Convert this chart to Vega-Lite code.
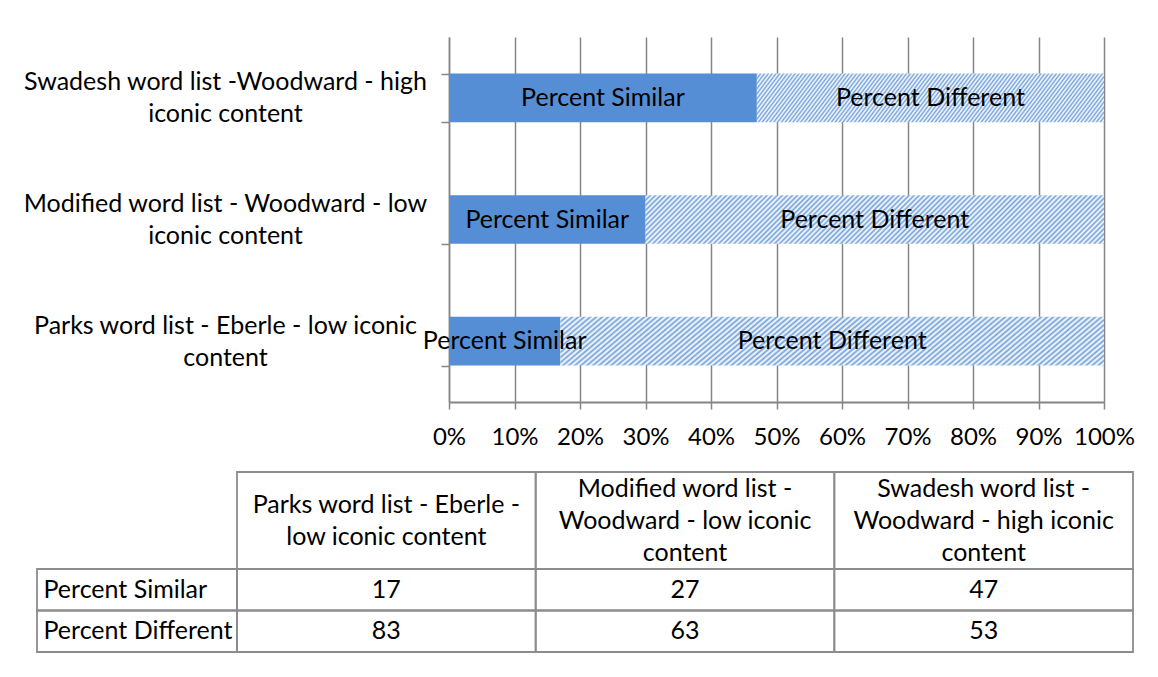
{
  "$schema": "https://vega.github.io/schema/vega-lite/v6.json",
  "background": "white",
  "padding": {"left": 22, "top": 25, "right": 5, "bottom": 5},
  "bounds": "flush",
  "spacing": 70,
  "config": {
    "font": "Lato",
    "view": {"stroke": null},
    "axis": {"labelFont": "Lato", "labelColor": "#000000"},
    "text": {"font": "Lato", "color": "#000000"}
  },
  "datasets": {
    "results": [
      {"list": "Parks word list - Eberle - low iconic content", "measure": "Percent Similar", "value": 17},
      {"list": "Parks word list - Eberle - low iconic content", "measure": "Percent Different", "value": 83},
      {"list": "Modified word list - Woodward - low iconic content", "measure": "Percent Similar", "value": 27},
      {"list": "Modified word list - Woodward - low iconic content", "measure": "Percent Different", "value": 63},
      {"list": "Swadesh word list -Woodward - high iconic content", "measure": "Percent Similar", "value": 47},
      {"list": "Swadesh word list -Woodward - high iconic content", "measure": "Percent Different", "value": 53}
    ]
  },
  "vconcat": [
    {
      "width": 1067,
      "height": 365,
      "data": {"name": "results"},
      "encoding": {
        "y": {
          "field": "list",
          "type": "nominal",
          "sort": ["Swadesh word list -Woodward - high iconic content", "Modified word list - Woodward - low iconic content", "Parks word list - Eberle - low iconic content"],
          "scale": {"paddingInner": 0.6, "paddingOuter": 0.3},
          "axis": {
            "title": null,
            "offset": -412,
            "grid": false,
            "domainColor": "#868686",
            "domainWidth": 1.5,
            "tickColor": "#868686",
            "tickWidth": 1.5,
            "tickSize": 8,
            "tickBand": "extent",
            "labelAlign": "center",
            "labelPadding": 216,
            "labelOffset": -16,
            "labelFontSize": 25,
            "labelLineHeight": 32,
            "labelLimit": 0,
            "labelExpr": "datum.label === 'Swadesh word list -Woodward - high iconic content' ? ['Swadesh word list -Woodward - high', 'iconic content'] : datum.label === 'Modified word list - Woodward - low iconic content' ? ['Modified word list - Woodward - low', 'iconic content'] : datum.label === 'Parks word list - Eberle - low iconic content' ? ['Parks word list - Eberle - low iconic', 'content'] : ''"
          }
        },
        "x": {
          "field": "value",
          "type": "quantitative",
          "stack": "normalize",
          "scale": {"domain": [0, 1], "range": [412, 1067], "nice": false},
          "axis": {
            "title": null,
            "values": [0, 0.1, 0.2, 0.3, 0.4, 0.5, 0.6, 0.7, 0.8, 0.9, 1],
            "format": ".0%",
            "grid": true,
            "gridColor": "#868686",
            "gridWidth": 1.5,
            "domainColor": "#868686",
            "domainWidth": 2,
            "tickColor": "#868686",
            "tickWidth": 1.5,
            "tickSize": 7,
            "labelFontSize": 24,
            "labelPadding": 16,
            "labelFlush": false,
            "labelOverlap": false
          }
        },
        "order": {"field": "measure", "sort": "descending"}
      },
      "layer": [
        {
          "mark": {"type": "bar"},
          "encoding": {
            "detail": {"field": "measure"},
            "fill": {
              "condition": {
                "test": "datum.measure === 'Percent Different'",
                "value": {
                  "gradient": "linear", "x1": 0, "y1": 0, "x2": 1.094, "y2": 0.116,
                  "stops": [
                    {"offset": 0, "color": "#73a1db"}, {"offset": 0.005, "color": "#fff"}, {"offset": 0.01, "color": "#73a1db"}, {"offset": 0.015, "color": "#fff"}, {"offset": 0.02, "color": "#73a1db"}, {"offset": 0.025, "color": "#fff"}, {"offset": 0.03, "color": "#73a1db"}, {"offset": 0.035, "color": "#fff"}, {"offset": 0.04, "color": "#73a1db"}, {"offset": 0.045, "color": "#fff"},
                    {"offset": 0.05, "color": "#73a1db"}, {"offset": 0.055, "color": "#fff"}, {"offset": 0.06, "color": "#73a1db"}, {"offset": 0.065, "color": "#fff"}, {"offset": 0.07, "color": "#73a1db"}, {"offset": 0.075, "color": "#fff"}, {"offset": 0.08, "color": "#73a1db"}, {"offset": 0.085, "color": "#fff"}, {"offset": 0.09, "color": "#73a1db"}, {"offset": 0.095, "color": "#fff"},
                    {"offset": 0.1, "color": "#73a1db"}, {"offset": 0.105, "color": "#fff"}, {"offset": 0.11, "color": "#73a1db"}, {"offset": 0.115, "color": "#fff"}, {"offset": 0.12, "color": "#73a1db"}, {"offset": 0.125, "color": "#fff"}, {"offset": 0.13, "color": "#73a1db"}, {"offset": 0.135, "color": "#fff"}, {"offset": 0.14, "color": "#73a1db"}, {"offset": 0.145, "color": "#fff"},
                    {"offset": 0.15, "color": "#73a1db"}, {"offset": 0.155, "color": "#fff"}, {"offset": 0.16, "color": "#73a1db"}, {"offset": 0.165, "color": "#fff"}, {"offset": 0.17, "color": "#73a1db"}, {"offset": 0.175, "color": "#fff"}, {"offset": 0.18, "color": "#73a1db"}, {"offset": 0.185, "color": "#fff"}, {"offset": 0.19, "color": "#73a1db"}, {"offset": 0.195, "color": "#fff"},
                    {"offset": 0.2, "color": "#73a1db"}, {"offset": 0.205, "color": "#fff"}, {"offset": 0.21, "color": "#73a1db"}, {"offset": 0.215, "color": "#fff"}, {"offset": 0.22, "color": "#73a1db"}, {"offset": 0.225, "color": "#fff"}, {"offset": 0.23, "color": "#73a1db"}, {"offset": 0.235, "color": "#fff"}, {"offset": 0.24, "color": "#73a1db"}, {"offset": 0.245, "color": "#fff"},
                    {"offset": 0.25, "color": "#73a1db"}, {"offset": 0.255, "color": "#fff"}, {"offset": 0.26, "color": "#73a1db"}, {"offset": 0.265, "color": "#fff"}, {"offset": 0.27, "color": "#73a1db"}, {"offset": 0.275, "color": "#fff"}, {"offset": 0.28, "color": "#73a1db"}, {"offset": 0.285, "color": "#fff"}, {"offset": 0.29, "color": "#73a1db"}, {"offset": 0.295, "color": "#fff"},
                    {"offset": 0.3, "color": "#73a1db"}, {"offset": 0.305, "color": "#fff"}, {"offset": 0.31, "color": "#73a1db"}, {"offset": 0.315, "color": "#fff"}, {"offset": 0.32, "color": "#73a1db"}, {"offset": 0.325, "color": "#fff"}, {"offset": 0.33, "color": "#73a1db"}, {"offset": 0.335, "color": "#fff"}, {"offset": 0.34, "color": "#73a1db"}, {"offset": 0.345, "color": "#fff"},
                    {"offset": 0.35, "color": "#73a1db"}, {"offset": 0.355, "color": "#fff"}, {"offset": 0.36, "color": "#73a1db"}, {"offset": 0.365, "color": "#fff"}, {"offset": 0.37, "color": "#73a1db"}, {"offset": 0.375, "color": "#fff"}, {"offset": 0.38, "color": "#73a1db"}, {"offset": 0.385, "color": "#fff"}, {"offset": 0.39, "color": "#73a1db"}, {"offset": 0.395, "color": "#fff"},
                    {"offset": 0.4, "color": "#73a1db"}, {"offset": 0.405, "color": "#fff"}, {"offset": 0.41, "color": "#73a1db"}, {"offset": 0.415, "color": "#fff"}, {"offset": 0.42, "color": "#73a1db"}, {"offset": 0.425, "color": "#fff"}, {"offset": 0.43, "color": "#73a1db"}, {"offset": 0.435, "color": "#fff"}, {"offset": 0.44, "color": "#73a1db"}, {"offset": 0.445, "color": "#fff"},
                    {"offset": 0.45, "color": "#73a1db"}, {"offset": 0.455, "color": "#fff"}, {"offset": 0.46, "color": "#73a1db"}, {"offset": 0.465, "color": "#fff"}, {"offset": 0.47, "color": "#73a1db"}, {"offset": 0.475, "color": "#fff"}, {"offset": 0.48, "color": "#73a1db"}, {"offset": 0.485, "color": "#fff"}, {"offset": 0.49, "color": "#73a1db"}, {"offset": 0.495, "color": "#fff"},
                    {"offset": 0.5, "color": "#73a1db"}, {"offset": 0.505, "color": "#fff"}, {"offset": 0.51, "color": "#73a1db"}, {"offset": 0.515, "color": "#fff"}, {"offset": 0.52, "color": "#73a1db"}, {"offset": 0.525, "color": "#fff"}, {"offset": 0.53, "color": "#73a1db"}, {"offset": 0.535, "color": "#fff"}, {"offset": 0.54, "color": "#73a1db"}, {"offset": 0.545, "color": "#fff"},
                    {"offset": 0.55, "color": "#73a1db"}, {"offset": 0.555, "color": "#fff"}, {"offset": 0.56, "color": "#73a1db"}, {"offset": 0.565, "color": "#fff"}, {"offset": 0.57, "color": "#73a1db"}, {"offset": 0.575, "color": "#fff"}, {"offset": 0.58, "color": "#73a1db"}, {"offset": 0.585, "color": "#fff"}, {"offset": 0.59, "color": "#73a1db"}, {"offset": 0.595, "color": "#fff"},
                    {"offset": 0.6, "color": "#73a1db"}, {"offset": 0.605, "color": "#fff"}, {"offset": 0.61, "color": "#73a1db"}, {"offset": 0.615, "color": "#fff"}, {"offset": 0.62, "color": "#73a1db"}, {"offset": 0.625, "color": "#fff"}, {"offset": 0.63, "color": "#73a1db"}, {"offset": 0.635, "color": "#fff"}, {"offset": 0.64, "color": "#73a1db"}, {"offset": 0.645, "color": "#fff"},
                    {"offset": 0.65, "color": "#73a1db"}, {"offset": 0.655, "color": "#fff"}, {"offset": 0.66, "color": "#73a1db"}, {"offset": 0.665, "color": "#fff"}, {"offset": 0.67, "color": "#73a1db"}, {"offset": 0.675, "color": "#fff"}, {"offset": 0.68, "color": "#73a1db"}, {"offset": 0.685, "color": "#fff"}, {"offset": 0.69, "color": "#73a1db"}, {"offset": 0.695, "color": "#fff"},
                    {"offset": 0.7, "color": "#73a1db"}, {"offset": 0.705, "color": "#fff"}, {"offset": 0.71, "color": "#73a1db"}, {"offset": 0.715, "color": "#fff"}, {"offset": 0.72, "color": "#73a1db"}, {"offset": 0.725, "color": "#fff"}, {"offset": 0.73, "color": "#73a1db"}, {"offset": 0.735, "color": "#fff"}, {"offset": 0.74, "color": "#73a1db"}, {"offset": 0.745, "color": "#fff"},
                    {"offset": 0.75, "color": "#73a1db"}, {"offset": 0.755, "color": "#fff"}, {"offset": 0.76, "color": "#73a1db"}, {"offset": 0.765, "color": "#fff"}, {"offset": 0.77, "color": "#73a1db"}, {"offset": 0.775, "color": "#fff"}, {"offset": 0.78, "color": "#73a1db"}, {"offset": 0.785, "color": "#fff"}, {"offset": 0.79, "color": "#73a1db"}, {"offset": 0.795, "color": "#fff"},
                    {"offset": 0.8, "color": "#73a1db"}, {"offset": 0.805, "color": "#fff"}, {"offset": 0.81, "color": "#73a1db"}, {"offset": 0.815, "color": "#fff"}, {"offset": 0.82, "color": "#73a1db"}, {"offset": 0.825, "color": "#fff"}, {"offset": 0.83, "color": "#73a1db"}, {"offset": 0.835, "color": "#fff"}, {"offset": 0.84, "color": "#73a1db"}, {"offset": 0.845, "color": "#fff"},
                    {"offset": 0.85, "color": "#73a1db"}, {"offset": 0.855, "color": "#fff"}, {"offset": 0.86, "color": "#73a1db"}, {"offset": 0.865, "color": "#fff"}, {"offset": 0.87, "color": "#73a1db"}, {"offset": 0.875, "color": "#fff"}, {"offset": 0.88, "color": "#73a1db"}, {"offset": 0.885, "color": "#fff"}, {"offset": 0.89, "color": "#73a1db"}, {"offset": 0.895, "color": "#fff"},
                    {"offset": 0.9, "color": "#73a1db"}, {"offset": 0.905, "color": "#fff"}, {"offset": 0.91, "color": "#73a1db"}, {"offset": 0.915, "color": "#fff"}, {"offset": 0.92, "color": "#73a1db"}, {"offset": 0.925, "color": "#fff"}, {"offset": 0.93, "color": "#73a1db"}, {"offset": 0.935, "color": "#fff"}, {"offset": 0.94, "color": "#73a1db"}, {"offset": 0.945, "color": "#fff"},
                    {"offset": 0.95, "color": "#73a1db"}, {"offset": 0.955, "color": "#fff"}, {"offset": 0.96, "color": "#73a1db"}, {"offset": 0.965, "color": "#fff"}, {"offset": 0.97, "color": "#73a1db"}, {"offset": 0.975, "color": "#fff"}, {"offset": 0.98, "color": "#73a1db"}, {"offset": 0.985, "color": "#fff"}, {"offset": 0.99, "color": "#73a1db"}, {"offset": 0.995, "color": "#fff"},
                    {"offset": 1, "color": "#73a1db"}
                  ]
                }
              },
              "value": "#558ED5"
            }
          }
        },
        {
          "mark": {"type": "text", "fontSize": 25, "color": "#000000"},
          "encoding": {
            "x": {"field": "value", "type": "quantitative", "stack": "normalize", "bandPosition": 0.5},
            "detail": {"field": "measure"},
            "text": {"field": "measure"}
          }
        }
      ]
    },
    {
      "columns": 2,
      "spacing": 0,
      "align": "each",
      "bounds": "flush",
      "concat": [
        {
          "width": 200,
          "height": 97,
          "data": {"values": [{}]},
          "mark": {"type": "text"},
          "encoding": {"text": {"value": ""}}
        },
        {
          "width": 896,
          "height": 97,
          "data": {"name": "results"},
          "transform": [{"filter": "datum.measure === 'Percent Similar'"}],
          "encoding": {
            "x": {
              "field": "list",
              "type": "nominal",
              "sort": ["Parks word list - Eberle - low iconic content", "Modified word list - Woodward - low iconic content", "Swadesh word list -Woodward - high iconic content"],
              "scale": {"paddingInner": 0, "paddingOuter": 0},
              "axis": null
            }
          },
          "layer": [
            {"mark": {"type": "rect", "filled": false, "stroke": "#8c8c8c", "strokeWidth": 1.8}},
            {
              "transform": [{"filter": "datum.list === 'Parks word list - Eberle - low iconic content'"}],
              "mark": {"type": "text", "fontSize": 25, "lineHeight": 32, "dy": -16},
              "encoding": {
                "text": {"value": ["Parks word list - Eberle -", "low iconic content"]}
              }
            },
            {
              "transform": [{"filter": "datum.list !== 'Parks word list - Eberle - low iconic content'"}],
              "mark": {"type": "text", "fontSize": 25, "lineHeight": 32, "dy": -32},
              "encoding": {
                "text": {
                  "condition": {"test": "datum.list === 'Modified word list - Woodward - low iconic content'", "value": ["Modified word list -", "Woodward - low iconic", "content"]},
                  "value": ["Swadesh word list -", "Woodward - high iconic", "content"]
                }
              }
            }
          ]
        },
        {
          "width": 200,
          "height": 83,
          "data": {"name": "results"},
          "transform": [{"filter": "datum.list === 'Parks word list - Eberle - low iconic content'"}],
          "encoding": {
            "y": {
              "field": "measure",
              "type": "nominal",
              "sort": ["Percent Similar", "Percent Different"],
              "scale": {"paddingInner": 0, "paddingOuter": 0},
              "axis": {
                "title": null,
                "domain": false,
                "ticks": false,
                "tickSize": 0,
                "labelAlign": "left",
                "labelPadding": -6,
                "labelFontSize": 25,
                "labelLimit": 0,
                "zindex": 1
              }
            }
          },
          "mark": {"type": "rect", "filled": false, "stroke": "#8c8c8c", "strokeWidth": 1.8}
        },
        {
          "width": 896,
          "height": 83,
          "data": {"name": "results"},
          "encoding": {
            "x": {
              "field": "list",
              "type": "nominal",
              "sort": ["Parks word list - Eberle - low iconic content", "Modified word list - Woodward - low iconic content", "Swadesh word list -Woodward - high iconic content"],
              "scale": {"paddingInner": 0, "paddingOuter": 0},
              "axis": null
            },
            "y": {
              "field": "measure",
              "type": "nominal",
              "sort": ["Percent Similar", "Percent Different"],
              "scale": {"paddingInner": 0, "paddingOuter": 0},
              "axis": null
            }
          },
          "layer": [
            {"mark": {"type": "rect", "filled": false, "stroke": "#8c8c8c", "strokeWidth": 1.8}},
            {"mark": {"type": "text", "fontSize": 25}, "encoding": {"text": {"field": "value"}}}
          ]
        }
      ]
    }
  ]
}
